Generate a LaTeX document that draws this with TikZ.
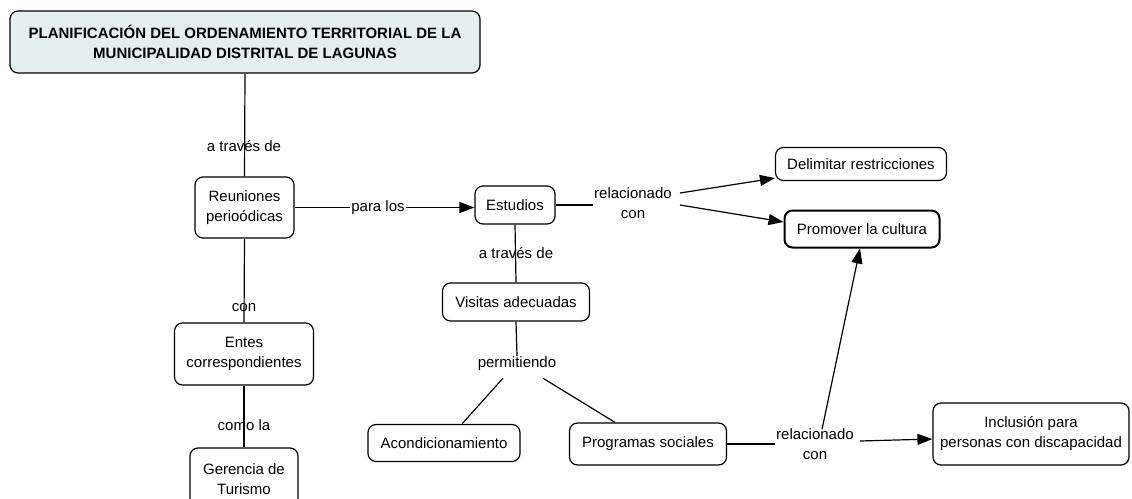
\documentclass[tikz,border=0pt]{standalone}
\usepackage{fontspec}
\setmainfont{Liberation Sans}
\usetikzlibrary{arrows.meta,calc}
\definecolor{titlefill}{RGB}{230,239,239}
\tikzset{
  box/.style={draw, rounded corners=8pt, line width=1.2pt, align=center, inner sep=2pt,
    font=\fontsize{15}{20}\selectfont},
  lbl/.style={inner sep=1pt, align=center, font=\fontsize{15}{20}\selectfont},
  ln/.style={line width=1.2pt},
  arr/.style={line width=1.2pt, -{Triangle[length=15pt,width=11pt]}}
}
\begin{document}
\begin{tikzpicture}[x=1pt,y=-1pt]
\useasboundingbox (0,0) rectangle (1132,498);
\clip (0,0) rectangle (1132,498);
% concept boxes
\node[box, fill=titlefill, minimum width=470, minimum height=62, font=\fontsize{15}{20}\selectfont\bfseries] (title) at (245,42)
  {PLANIFICACIÓN DEL ORDENAMIENTO TERRITORIAL DE LA\\MUNICIPALIDAD DISTRITAL DE LAGUNAS};
\node[box, minimum width=99, minimum height=61] (reun) at (244.5,207.5) {Reuniones\\perioódicas};
\node[box, minimum width=80, minimum height=38] (estud) at (515,205) {Estudios};
\node[box, minimum width=171, minimum height=33] (delim) at (861,164) {Delimitar restricciones};
\node[box, minimum width=155, minimum height=37, line width=2pt] (promo) at (862,229) {Promover la cultura};
\node[box, minimum width=147, minimum height=38] (visit) at (516,302) {Visitas adecuadas};
\node[box, minimum width=152, minimum height=37] (acond) at (444,443) {Acondicionamiento};
\node[box, minimum width=157, minimum height=42] (prog) at (648,444) {Programas sociales};
\node[box, minimum width=196, minimum height=62] (incl) at (1031,434) {Inclusión para\\personas con discapacidad};
\node[box, minimum width=139, minimum height=62] (entes) at (244,354) {Entes\\correspondientes};
\node[box, minimum width=108, minimum height=62] (geren) at (244,479) {Gerencia de\\Turismo};
% linking phrases
\node[lbl] (l1) at (244,146) {a través de};
\node[lbl] (l2) at (378,207.5) {para los};
\node[lbl] (l3) at (633,203) {relacionado\\con};
\node[lbl] (l4) at (516,253) {a través de};
\node[lbl] (l5) at (517,364) {permitiendo};
\node[lbl] (l6) at (815,444) {relacionado\\con};
\node[lbl] (l7) at (244,308) {con};
\node[lbl] (l8) at (244,425) {como la};
% connectors
\draw[ln] (title.south) -- (reun.north);
\draw[ln] (reun.east) -- (l2.west);
\draw[arr] (l2.east) -- (estud.west |- l2.east);
\draw[ln] (estud.east) -- (l3.west |- estud.east);
\draw[arr] ($(l3.east)+(7,-10)$) -- ($(delim.south west)+(0,-3)$);
\draw[arr] ($(l3.east)+(7,2)$) -- ($(promo.west)+(0,-7)$);
\draw[ln] (estud.south) -- (visit.north);
\draw[ln] (visit.south) -- (l5.north);
\draw[ln] ($(l5.south)+(-14,6)$) -- ($(acond.north)+(18,0)$);
\draw[ln] ($(l5.south)+(26,6)$) -- ($(prog.north)+(-33,0)$);
\draw[ln] (prog.east) -- (l6.west |- prog.east);
\draw[arr] ($(l6.east)+(5,-3)$) -- ($(incl.west)+(0,5)$);
\draw[arr] ($(l6.north)+(7,2)$) -- ($(promo.south)+(-2,0)$);
\draw[ln] (reun.south) -- (entes.north);
\draw[ln] (entes.south) -- (geren.north);
\end{tikzpicture}
\end{document}
